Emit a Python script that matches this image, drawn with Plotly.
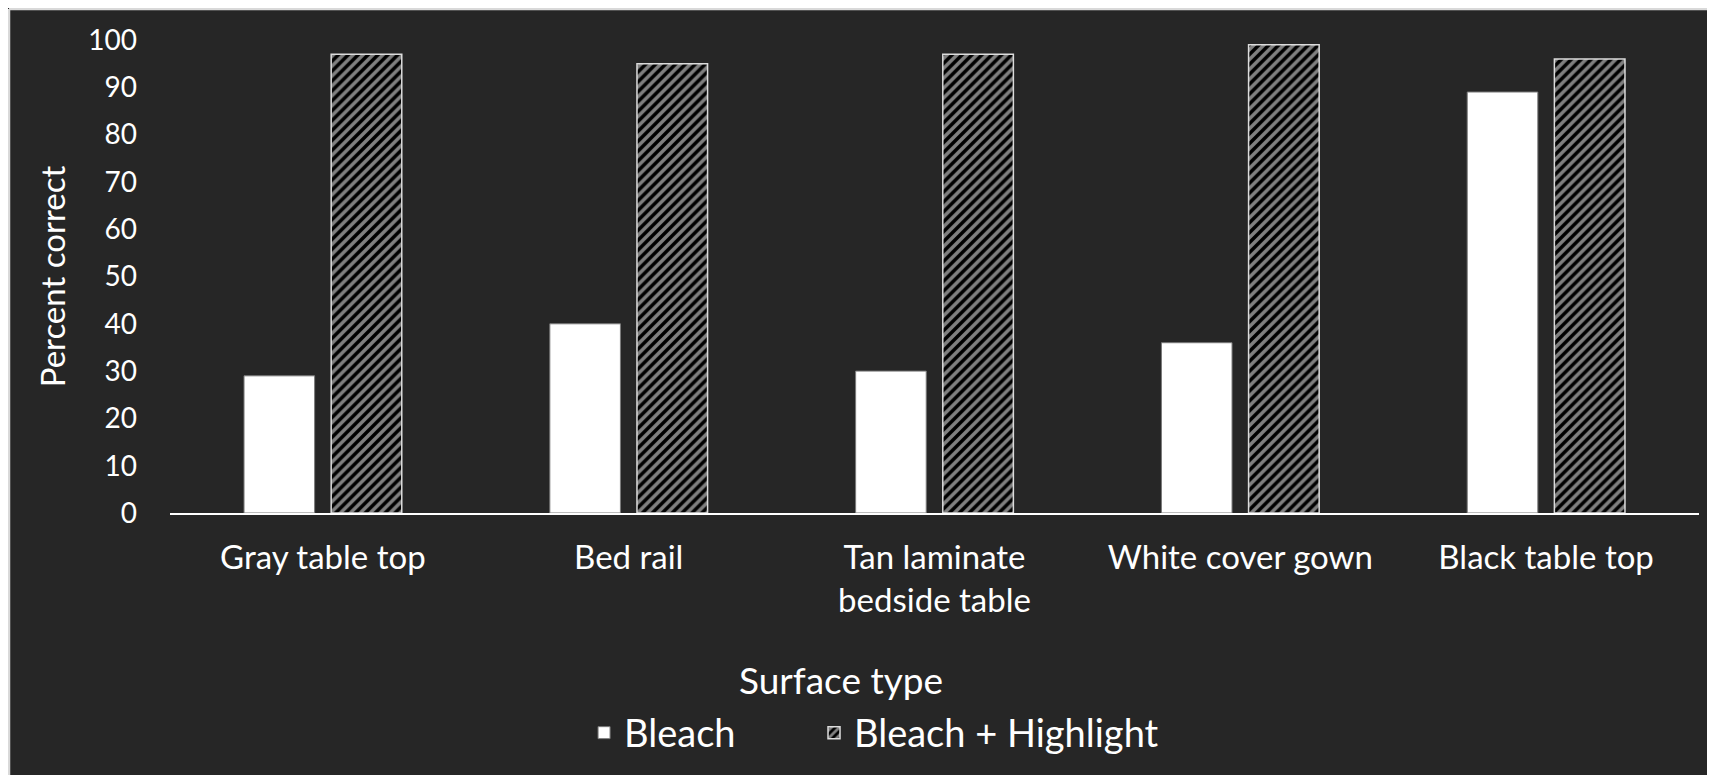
import plotly.graph_objects as go

surfaces = ["Gray table top", "Bed rail", "Tan laminate<br>bedside table",
            "White cover gown", "Black table top"]
bleach = [29, 40, 30, 36, 89]
bleach_highlight = [97, 95, 97, 99, 96]
y_ticks = [0, 10, 20, 30, 40, 50, 60, 70, 80, 90, 100]

BG = "#262626"
FONT = "Lato"

fig = go.Figure()
fig.add_trace(go.Bar(
    x=surfaces, y=bleach, name="Bleach", legend="legend",
    marker=dict(color="white", line=dict(color="#7a7a7a", width=1)),
))
fig.add_trace(go.Bar(
    x=surfaces, y=bleach_highlight, name="Bleach + Highlight", legend="legend2",
    marker=dict(
        color="black",
        pattern=dict(shape="/", fgcolor="white", bgcolor="black", size=7, solidity=0.5),
        line=dict(color="#dcdcdc", width=1.5),
    ),
))

legend_style = dict(orientation="h", xanchor="left", y=-0.465, yanchor="middle",
                    font=dict(size=38, color="white"), bgcolor="rgba(0,0,0,0)")

fig.update_layout(
    width=1715, height=775,
    paper_bgcolor=BG, plot_bgcolor=BG,
    font=dict(family=FONT, color="white", size=33),
    margin=dict(l=162, r=24, t=32, b=270),
    barmode="group", bargap=0.43, bargroupgap=0.19,
    showlegend=True,
    legend=dict(x=0.2708, **legend_style),
    legend2=dict(x=0.4212, **legend_style),
    annotations=[dict(text="Surface type", xref="paper", yref="paper", x=0.4386, y=-0.353,
                      showarrow=False, font=dict(size=37, color="white"),
                      xanchor="center", yanchor="middle")],
    shapes=[
        dict(type="line", xref="paper", yref="paper", x0=-0.1053, x1=1.2, y0=1.0655, y1=1.0655,
             line=dict(color="#d9d9d9", width=2.5)),
        dict(type="line", xref="paper", yref="paper", x0=-0.1053, x1=-0.1053, y0=-1.0, y1=1.0655,
             line=dict(color="#d9d9d9", width=2.5)),
    ],
)
fig.update_xaxes(showgrid=False, showline=True, linecolor="white", linewidth=2,
                 ticks="", tickfont=dict(size=33), ticklabelstandoff=14)
fig.update_yaxes(range=[0, 100], tickvals=y_ticks, showgrid=False, zeroline=False,
                 showline=False, ticks="", tickfont=dict(size=28), ticklabelstandoff=32,
                 title=dict(text="Percent correct", font=dict(size=33), standoff=12))

fig.write_html("out.html")
